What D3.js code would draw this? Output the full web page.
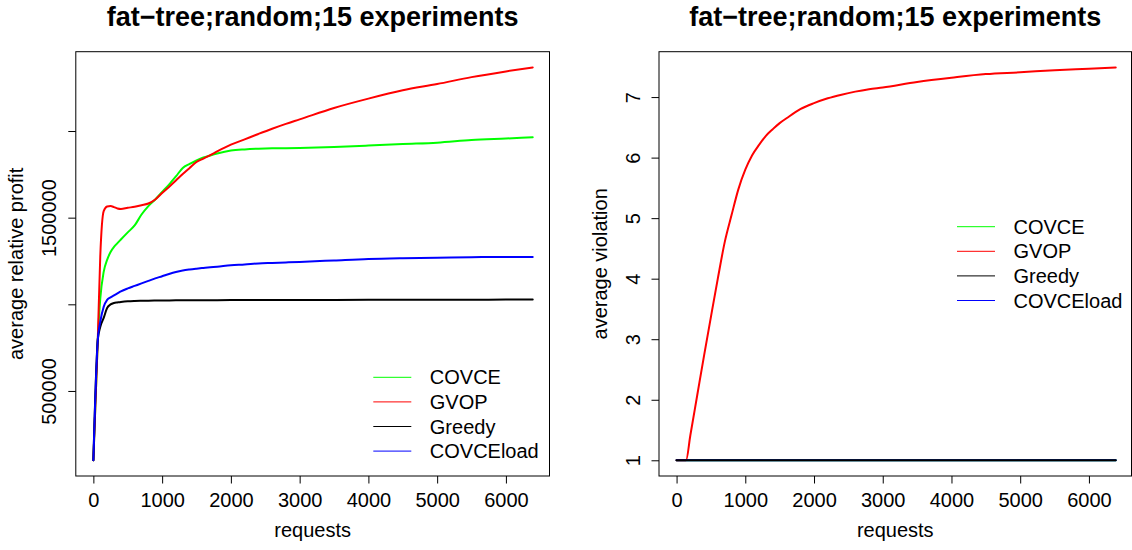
<!DOCTYPE html>
<html>
<head>
<meta charset="utf-8">
<script src="https://cdn.jsdelivr.net/npm/d3@7"></script>
<style>
  html, body { margin: 0; padding: 0; background: #ffffff; }
  svg { display: block; font-family: "Liberation Sans", Arial, Helvetica, sans-serif; }
</style>
</head>
<body>
<svg id="chart" width="1132" height="550"></svg>
<script>
// ---- Profit panel data (average relative profit vs. number of requests) ----
const requests = [0, 64, 100, 150, 200, 250, 300, 350, 400, 500, 600, 700, 800, 900, 1000,
  1100, 1200, 1300, 1400, 1500, 1600, 1700, 1800, 2000, 2200, 2400, 2600, 2800, 3000,
  3500, 4000, 4500, 5000, 5500, 6000, 6390];

const covceProfit = [100000, 795000, 1031000, 1187000, 1256000, 1302000, 1331000, 1353000,
  1374000, 1415000, 1455000, 1518000, 1567000, 1605000, 1648000, 1691000, 1738000, 1787000,
  1810000, 1830000, 1847000, 1859000, 1870000, 1887000, 1894000, 1898000, 1900000, 1900500,
  1902000, 1907700, 1916000, 1925000, 1932500, 1948000, 1956700, 1963700];

const gvopProfit = [100000, 795000, 1275000, 1538000, 1564000, 1567000, 1561000, 1553000,
  1550000, 1557000, 1563000, 1572000, 1582000, 1605000, 1642000, 1677000, 1714000, 1752000,
  1787000, 1821000, 1841000, 1861000, 1882000, 1921000, 1952000, 1983000, 2013000, 2041000,
  2067000, 2133000, 2187000, 2235000, 2271000, 2311000, 2344000, 2367000];

const greedyProfit = [100000, 795000, 869700, 921600, 979000, 999400, 1008000, 1011000,
  1013800, 1017900, 1019700, 1020500, 1021000, 1021500, 1022000, 1022500, 1023000, 1023200,
  1023400, 1023600, 1023800, 1024000, 1024100, 1024200, 1024400, 1024600, 1024800, 1025000,
  1025200, 1025600, 1026000, 1026300, 1026600, 1026900, 1027200, 1027400];

const covceLoadProfit = [100000, 795000, 898500, 985000, 1025400, 1040000, 1051300, 1063000,
  1074400, 1091700, 1106100, 1120500, 1135000, 1149400, 1162000, 1175300, 1186900, 1195500,
  1201300, 1205900, 1210000, 1214000, 1217400, 1225500, 1230100, 1235900, 1238800, 1241600,
  1244500, 1253200, 1261800, 1266400, 1269300, 1272200, 1273400, 1273400];

// ---- Violation panel data ----
const violationRequests = [0, 138, 200, 300, 400, 500, 600, 700, 800, 900, 1000, 1100, 1200,
  1300, 1400, 1500, 1600, 1800, 2000, 2200, 2400, 2600, 2800, 3000, 3500, 4000, 4500, 5000,
  5500, 6000, 6390];

const gvopViolation = [1, 1, 1.41, 2.07, 2.73, 3.37, 4.0, 4.6, 5.05, 5.48, 5.8, 6.04, 6.21,
  6.36, 6.47, 6.57, 6.65, 6.8, 6.9, 6.98, 7.04, 7.09, 7.13, 7.16, 7.25, 7.32, 7.38, 7.41,
  7.445, 7.47, 7.49];

const flatRequests = [0, 6390];
const covceViolation = [1, 1];
const greedyViolation = [1, 1];
const covceLoadViolation = [1, 1];

// ---- Axis ticks and labels ----
const requestTicks = [0, 1000, 2000, 3000, 4000, 5000, 6000];
const profitTicks = [500000, 1000000, 1500000, 2000000];
const profitTickLabels = ["500000", "", "1500000", ""];
const violationTicks = [1, 2, 3, 4, 5, 6, 7];
const violationTickLabels = ["1", "2", "3", "4", "5", "6", "7"];

const legendNames = ["COVCE", "GVOP", "Greedy", "COVCEload"];
const legendColors = ["#00ff00", "#ff0000", "#000000", "#0000ff"];

const titleText = "fat\u2212tree;random;15 experiments";

const svg = d3.select("#chart");

// Pads a data range by 4% on each side, as base graphics does.
function padded(lo, hi) {
  const e = (hi - lo) * 0.04;
  return [lo - e, hi + e];
}

function drawPanel(p) {
  const g = svg.append("g");
  const x = d3.scaleLinear().domain(padded(0, 6390)).range([p.left, p.right]);
  const y = d3.scaleLinear().domain(padded(p.yMin, p.yMax)).range([p.bottom, p.top]);

  const clipId = "clip-" + p.id;
  g.append("clipPath").attr("id", clipId)
    .append("rect")
    .attr("x", p.left).attr("y", p.top)
    .attr("width", p.boxRight - p.left).attr("height", p.bottom - p.top);

  const line = d3.line()
    .x(d => x(d[0]))
    .y(d => y(d[1]))
    .curve(d3.curveMonotoneX);

  const lines = g.append("g").attr("clip-path", `url(#${clipId})`);
  p.series.forEach(s => {
    lines.append("path")
      .datum(s.values.map((v, i) => [s.x[i], v]))
      .attr("d", line)
      .attr("fill", "none")
      .attr("stroke", s.color)
      .attr("stroke-width", 2)
      .attr("stroke-linejoin", "round")
      .attr("stroke-linecap", "round");
  });

  // plot frame
  g.append("rect")
    .attr("x", p.left).attr("y", p.top)
    .attr("width", p.boxRight - p.left).attr("height", p.bottom - p.top)
    .attr("fill", "none").attr("stroke", "#000").attr("stroke-width", 1);

  // x axis
  const xa = g.append("g")
    .attr("transform", `translate(0,${p.bottom})`)
    .call(d3.axisBottom(x).tickValues(requestTicks).tickSize(7.5).tickSizeOuter(0)
      .tickFormat(d3.format("d")))
    .attr("font-size", null).attr("font-family", null);
  xa.select(".domain").remove();
  xa.selectAll(".tick line").attr("stroke", "#000");
  xa.selectAll(".tick text")
    .attr("y", 30.5).attr("dy", null)
    .attr("fill", "#000")
    .style("font-size", "20px");

  // y axis with labels rotated parallel to the axis
  const ya = g.append("g")
    .attr("transform", `translate(${p.left},0)`)
    .call(d3.axisLeft(y).tickValues(p.yTicks).tickSize(7.5).tickSizeOuter(0)
      .tickFormat((d, i) => p.yTickLabels[i]))
    .attr("font-size", null).attr("font-family", null);
  ya.select(".domain").remove();
  ya.selectAll(".tick line").attr("stroke", "#000");
  ya.selectAll(".tick text")
    .attr("transform", "rotate(-90)")
    .attr("x", 0).attr("y", -19.5).attr("dy", null)
    .attr("text-anchor", "middle")
    .attr("fill", "#000")
    .style("font-size", "20px");

  // axis titles
  const cx = (p.left + p.boxRight) / 2;
  g.append("text")
    .attr("x", cx).attr("y", 537)
    .attr("text-anchor", "middle")
    .style("font-size", "20px")
    .text("requests");

  g.append("text")
    .attr("transform", `translate(${p.left - 52.5},${(p.top + p.bottom) / 2}) rotate(-90)`)
    .attr("text-anchor", "middle")
    .style("font-size", "20px")
    .text(p.ylabel);

  // main title
  g.append("text")
    .attr("x", cx).attr("y", 25.5)
    .attr("text-anchor", "middle")
    .style("font-size", "27px")
    .style("font-weight", "bold")
    .text(titleText);

  // legend
  const lg = g.append("g");
  legendNames.forEach((name, i) => {
    const ly = p.legendY + i * 24.6;
    lg.append("line")
      .attr("x1", p.legendX).attr("x2", p.legendX + 38)
      .attr("y1", ly).attr("y2", ly)
      .attr("stroke", legendColors[i]).attr("stroke-width", 1);
    lg.append("text")
      .attr("x", p.legendX + 56.5).attr("y", ly + 7)
      .style("font-size", "20px")
      .text(name);
  });
}

drawPanel({
  id: "profit",
  left: 75.8, right: 550.3, boxRight: 549.5, top: 51.7, bottom: 476,
  yMin: 100000, yMax: 2367000,
  yTicks: profitTicks, yTickLabels: profitTickLabels,
  ylabel: "average relative profit",
  legendX: 373.3, legendY: 377.3,
  series: [
    { x: requests, values: covceProfit, color: legendColors[0] },
    { x: requests, values: gvopProfit, color: legendColors[1] },
    { x: requests, values: greedyProfit, color: legendColors[2] },
    { x: requests, values: covceLoadProfit, color: legendColors[3] }
  ]
});

drawPanel({
  id: "violation",
  left: 659, right: 1133.3, boxRight: 1131.5, top: 51.7, bottom: 476,
  yMin: 1, yMax: 7.49,
  yTicks: violationTicks, yTickLabels: violationTickLabels,
  ylabel: "average violation",
  legendX: 957, legendY: 226.7,
  series: [
    { x: flatRequests, values: covceViolation, color: legendColors[0] },
    { x: violationRequests, values: gvopViolation, color: legendColors[1] },
    { x: flatRequests, values: covceLoadViolation, color: legendColors[3] },
    { x: flatRequests, values: greedyViolation, color: legendColors[2] }
  ]
});
</script>
</body>
</html>
